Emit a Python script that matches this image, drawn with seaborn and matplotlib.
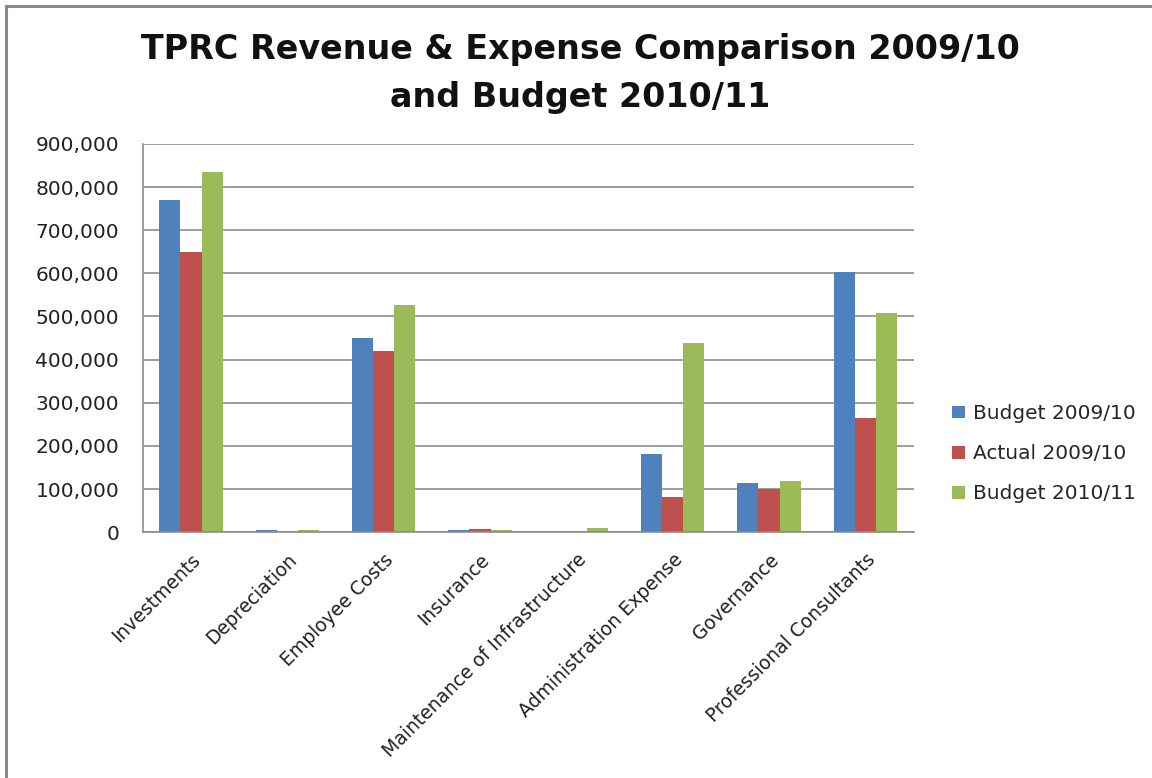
import matplotlib
matplotlib.use("Agg")
import matplotlib.pyplot as plt
import seaborn as sns
import pandas as pd
from matplotlib.patches import Rectangle
from matplotlib.ticker import FuncFormatter

categories = ["Investments", "Depreciation", "Employee Costs", "Insurance",
              "Maintenance of Infrastructure", "Administration Expense",
              "Governance", "Professional Consultants"]
series_names = ["Budget 2009/10", "Actual 2009/10", "Budget 2010/11"]
budget_0910 = [770000, 4500, 450000, 4000, 0, 181000, 113000, 603000]
actual_0910 = [650000, 0, 420000, 7000, 0, 81000, 99000, 264000]
budget_1011 = [835000, 4000, 527000, 6000, 10000, 438000, 118000, 508000]
colors = ["#4F81BD", "#C0504D", "#9BBB59"]
y_ticks = [0, 100000, 200000, 300000, 400000, 500000, 600000, 700000, 800000, 900000]

rows = []
for name, vals in zip(series_names, [budget_0910, actual_0910, budget_1011]):
    for c, v in zip(categories, vals):
        rows.append({"Category": c, "Series": name, "Value": v})
df = pd.DataFrame(rows)

sns.set_theme(style="white")
plt.rcParams["font.family"] = ["DejaVu Sans"]

fig = plt.figure(figsize=(11.52, 7.78), dpi=100)
ax = fig.add_axes([0.124, 0.316, 0.669, 0.499])

sns.barplot(data=df, x="Category", y="Value", hue="Series", order=categories,
            hue_order=series_names, palette=colors, width=0.66, saturation=1,
            edgecolor="none", ax=ax, errorbar=None)

ax.set_ylim(0, 900000)
ax.set_yticks(y_ticks)
ax.yaxis.set_major_formatter(FuncFormatter(lambda v, p: f"{int(v):,}"))
ax.grid(axis="y", color="#8c8c8c", linewidth=1.2)
ax.set_axisbelow(True)
ax.set_xlim(-0.5, len(categories) - 0.5)
for s in ["top", "right"]:
    ax.spines[s].set_visible(False)
for s in ["left", "bottom"]:
    ax.spines[s].set_color("#8c8c8c")
    ax.spines[s].set_linewidth(1.2)
ax.set_xlabel("")
ax.set_ylabel("")
ax.tick_params(axis="y", labelsize=14.5, colors="#222222", length=0, pad=17)
ax.tick_params(axis="x", labelsize=13.5, colors="#222222", length=0, pad=13)
plt.setp(ax.get_xticklabels(), rotation=45, ha="right", rotation_mode="anchor")

ax.legend(loc="center left", bbox_to_anchor=(1.027, 0.202), frameon=False,
          fontsize=14.5, handlelength=0.6, handleheight=0.6, handletextpad=0.4,
          labelspacing=1.05)

fig.text(0.504, 0.906, "TPRC Revenue & Expense Comparison 2009/10\nand Budget 2010/11",
         ha="center", va="center", fontsize=24, fontweight="bold",
         linespacing=1.58, color="#111111")

fig.patches.append(Rectangle((6 / 1152, -0.1), 1.2, (1 - 6 / 778) + 0.1,
                             transform=fig.transFigure, fill=False,
                             edgecolor="#888888", linewidth=2.2))

fig.savefig("out.png", dpi=100, facecolor="white")
